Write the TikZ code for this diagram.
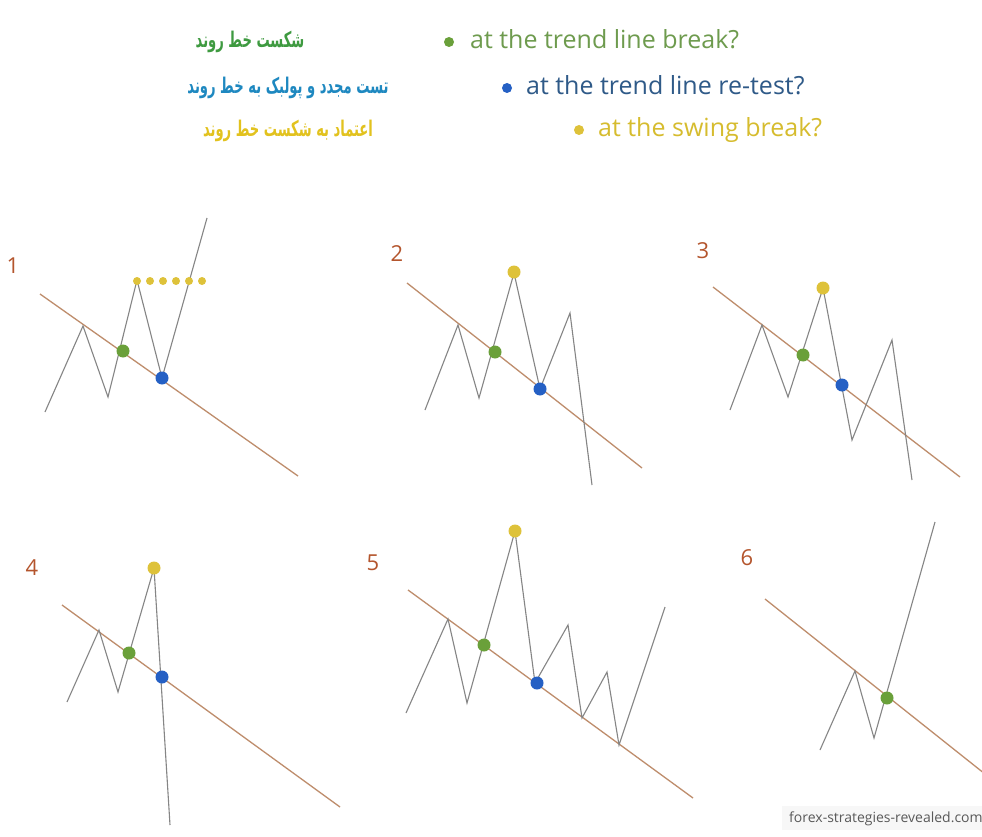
\documentclass[tikz,border=0pt]{standalone}
\usepackage{fontspec}
\setmainfont{Open Sans}
\newfontfamily\arabicfont[Script=Arabic]{DejaVu Sans}
\TeXXeTstate=1
\definecolor{gtext}{HTML}{6E9B4E}
\definecolor{btext}{HTML}{2F5A88}
\definecolor{ytext}{HTML}{D6BC2E}
\definecolor{gfa}{HTML}{3E9A40}
\definecolor{bfa}{HTML}{1E88C0}
\definecolor{yfa}{HTML}{E2C21E}
\definecolor{gdot}{HTML}{6AA03A}
\definecolor{bdot}{HTML}{2560C4}
\definecolor{ydot}{HTML}{DEC23A}
\definecolor{numc}{HTML}{B4552D}
\definecolor{trendc}{HTML}{BE8D6C}
\definecolor{pricec}{HTML}{858585}
\newcommand{\fatext}[1]{\scalebox{0.82}[1.35]{\arabicfont\bfseries\fontsize{16}{20}\selectfont\beginR #1\endR}}
\begin{document}
\begin{tikzpicture}[x=1pt,y=-1pt,
  trend/.style={draw=trendc, line width=1.3pt},
  price/.style={draw=pricec, line width=1.1pt, line join=miter},
  pdot/.style={circle, inner sep=0pt, minimum size=13pt},
  hdot/.style={circle, inner sep=0pt, minimum size=10pt},
  sdot/.style={circle, inner sep=0pt, minimum size=8pt, fill=ydot},
  numlabel/.style={text=numc, font=\fontsize{22}{24}\selectfont, inner sep=0pt},
  en/.style={anchor=base west, inner sep=0pt, font=\fontsize{25}{28}\selectfont},
  fa/.style={anchor=center, inner sep=0pt}]
\useasboundingbox[fill=white] (0,0) rectangle (982,837);

% ---------- header ----------
\node[fa, text=gfa] (fa1) at (250,42) {\fatext{شکست خط روند}};
\node[hdot, fill=gdot] (hd1) at (449,42) {};
\node[en, text=gtext] (en1) at (470,49) {at the trend line break?};

\node[fa, text=bfa] (fa2) at (288,88) {\fatext{تست مجدد و پولبک به خط روند}};
\node[hdot, fill=bdot] (hd2) at (507,88) {};
\node[en, text=btext] (en2) at (526,95) {at the trend line re-test?};

\node[fa, text=yfa] (fa3) at (288,131) {\fatext{اعتماد به شکست خط روند}};
\node[hdot, fill=ydot] (hd3) at (579,130) {};
\node[en, text=ytext] (en3) at (598,137) {at the swing break?};

% ---------- panel 1 ----------
\node[numlabel] (n1) at (13,266) {1};
\coordinate (t1a) at (40,294); \coordinate (t1b) at (298,476);
\draw[trend] (t1a) -- (t1b);
\coordinate (a1) at (45,412); \coordinate (a2) at (83,326); \coordinate (a3) at (108,397);
\coordinate (a4) at (137,280); \coordinate (a5) at (162,378); \coordinate (a6) at (207,218);
\draw[price] (a1) -- (a2) -- (a3) -- (a4) -- (a5) -- (a6);
\foreach \i/\x in {1/137,2/150,3/163,4/176,5/189,6/202}
  \node[sdot] (s\i) at (\x,281) {};
\node[pdot, fill=gdot] (g1) at (123,351) {};
\node[pdot, fill=bdot] (b1) at (162,378) {};

% ---------- panel 2 ----------
\node[numlabel] (n2) at (397,254) {2};
\coordinate (t2a) at (407,283); \coordinate (t2b) at (642,468);
\draw[trend] (t2a) -- (t2b);
\coordinate (c1) at (425,410); \coordinate (c2) at (458,325); \coordinate (c3) at (479,398);
\coordinate (c4) at (514,273); \coordinate (c5) at (540,389); \coordinate (c6) at (570,313);
\coordinate (c7) at (592,485);
\draw[price] (c1) -- (c2) -- (c3) -- (c4) -- (c5) -- (c6) -- (c7);
\node[pdot, fill=ydot] (y2) at (514,272) {};
\node[pdot, fill=gdot] (g2) at (495,352) {};
\node[pdot, fill=bdot] (b2) at (540,389) {};

% ---------- panel 3 ----------
\node[numlabel] (n3) at (703,251) {3};
\coordinate (t3a) at (713,287); \coordinate (t3b) at (960,477);
\draw[trend] (t3a) -- (t3b);
\coordinate (d1) at (730,410); \coordinate (d2) at (762,325); \coordinate (d3) at (788,397);
\coordinate (d4) at (823,288); \coordinate (d5) at (852,440); \coordinate (d6) at (892,340);
\coordinate (d7) at (912,480);
\draw[price] (d1) -- (d2) -- (d3) -- (d4) -- (d5) -- (d6) -- (d7);
\node[pdot, fill=ydot] (y3) at (823,288) {};
\node[pdot, fill=gdot] (g3) at (803,355) {};
\node[pdot, fill=bdot] (b3) at (842,385) {};

% ---------- panel 4 ----------
\node[numlabel] (n4) at (32,568) {4};
\coordinate (t4a) at (62,605); \coordinate (t4b) at (340,807);
\draw[trend] (t4a) -- (t4b);
\coordinate (e1) at (67,702); \coordinate (e2) at (99,630); \coordinate (e3) at (118,692);
\coordinate (e4) at (154,568); \coordinate (e5) at (170,825);
\draw[price] (e1) -- (e2) -- (e3) -- (e4) -- (e5);
\node[pdot, fill=ydot] (y4) at (154,568) {};
\node[pdot, fill=gdot] (g4) at (129,653) {};
\node[pdot, fill=bdot] (b4) at (162,677) {};

% ---------- panel 5 ----------
\node[numlabel] (n5) at (373,563) {5};
\coordinate (t5a) at (408,590); \coordinate (t5b) at (693,798);
\draw[trend] (t5a) -- (t5b);
\coordinate (f1) at (406,713); \coordinate (f2) at (448,619); \coordinate (f3) at (467,703);
\coordinate (f4) at (515,531); \coordinate (f5) at (535,683); \coordinate (f6) at (568,625);
\coordinate (f7) at (582,718); \coordinate (f8) at (607,672); \coordinate (f9) at (619,745);
\coordinate (f10) at (665,607);
\draw[price] (f1) -- (f2) -- (f3) -- (f4) -- (f5) -- (f6) -- (f7) -- (f8) -- (f9) -- (f10);
\node[pdot, fill=ydot] (y5) at (515,531) {};
\node[pdot, fill=gdot] (g5) at (484,645) {};
\node[pdot, fill=bdot] (b5) at (537,683) {};

% ---------- panel 6 ----------
\node[numlabel] (n6) at (747,558) {6};
\coordinate (t6a) at (765,599); \coordinate (t6b) at (985,774);
\draw[trend] (t6a) -- (t6b);
\coordinate (h1) at (820,750); \coordinate (h2) at (855,671); \coordinate (h3) at (874,738);
\coordinate (h4) at (935,522);
\draw[price] (h1) -- (h2) -- (h3) -- (h4);
\node[pdot, fill=gdot] (g6) at (887,698) {};

% ---------- watermark ----------
\fill[black!3] (782,806) rectangle (982,830);
\node[anchor=west, inner sep=0pt, text=black!65, font=\fontsize{14}{16}\selectfont] (wm) at (789,819) {forex-strategies-revealed.com};
\end{tikzpicture}
\end{document}
